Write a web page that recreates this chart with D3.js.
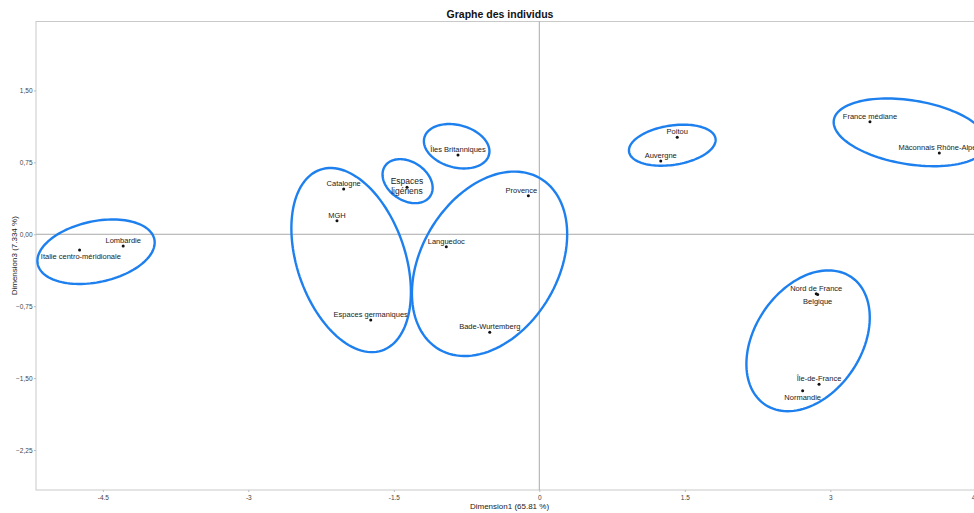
<!DOCTYPE html>
<html>
<head>
<meta charset="utf-8">
<script src="https://cdn.jsdelivr.net/npm/d3@7"></script>
<style>
  html, body { margin: 0; padding: 0; background: #fff; }
  svg { display: block; font-family: "Liberation Sans", Arial, sans-serif; }
</style>
</head>
<body>
<svg id="chart" width="974" height="513"></svg>
<script>
// ---- data ----
const names = ["Lombardie", "Italie centro-méridionale", "Catalogne", "MGH", "Espaces germaniques",
  "Espaces ligériens", "Îles Britanniques", "Provence", "Languedoc", "Bade-Wurtemberg",
  "Poitou", "Auvergne", "France médiane", "Mâconnais Rhône-Alpes",
  "Nord de France", "Belgique", "Île-de-France", "Normandie"];
const dim1 = [-4.29, -4.74, -2.017, -2.086, -1.738, -1.364, -0.838, -0.113, -0.959, -0.511,
  1.422, 1.252, 3.409, 4.124, 2.855, 2.87, 2.884, 2.715];
const dim3 = [-0.122, -0.164, 0.472, 0.142, -0.894, 0.49, 0.827, 0.403, -0.129, -1.022,
  1.011, 0.764, 1.174, 0.848, -0.619, -0.627, -1.564, -1.631];
const labelPlace = ["top", "bottom", "top", "top", "top", "center", "top", "topleft", "top", "top",
  "top", "top", "top", "top", "top", "bottom", "top", "bottom"];

// confidence ellipses (data units): centre, semi-axes, angle (degrees)
const ellCx = [-4.570, -1.940, -1.358, -0.852, -0.513, 1.371, 3.827, 2.771];
const ellCy = [-0.182, -0.269, 0.554, 0.918, -0.308, 0.929, 1.063, -1.111];
const ellA  = [0.615, 0.995, 0.281, 0.345, 1.033, 0.451, 0.801, 0.800];
const ellB  = [0.317, 0.558, 0.201, 0.221, 0.706, 0.205, 0.333, 0.551];
const ellAngle = [12.3, -71.5, -34.3, -15.3, 60.0, 8.8, -9.3, 56.8];

const xTicks = [-4.5, -3, -1.5, 0, 1.5, 3, 4.5];
const yTicks = [1.5, 0.75, 0, -0.75, -1.5, -2.25];

const title = "Graphe des individus";
const xTitle = "Dimension1 (65.81 %)";
const yTitle = "Dimension3 (7.334 %)";

// ---- layout ----
const svg = d3.select("#chart");
const L = 36, T = 21.5, B = 490, R = 982;
const x = d3.scaleLinear().domain([-5.189, 4.564]).range([L, R]);
const y = d3.scaleLinear().domain([-2.667, 2.219]).range([B, T]);

// frame
svg.append("rect").attr("x", L).attr("y", T).attr("width", R - L).attr("height", B - T)
  .attr("fill", "none").attr("stroke", "#c9c9c9").attr("stroke-width", 1);

// zero lines
svg.append("line").attr("x1", L).attr("x2", R).attr("y1", y(0)).attr("y2", y(0))
  .attr("stroke", "#a9a9a9").attr("stroke-width", 1);
svg.append("line").attr("x1", x(0)).attr("x2", x(0)).attr("y1", T).attr("y2", B)
  .attr("stroke", "#a9a9a9").attr("stroke-width", 1);

// axes
const fmtY = d => d3.format(".2f")(d).replace(".", ",");
const fmtX = d => String(d);
const xAxis = svg.append("g").attr("transform", `translate(0,${B})`)
  .call(d3.axisBottom(x).tickValues(xTicks).tickFormat(fmtX).tickSize(2).tickPadding(3));
const yAxis = svg.append("g").attr("transform", `translate(${L},0)`)
  .call(d3.axisLeft(y).tickValues(yTicks).tickFormat(fmtY).tickSize(2).tickPadding(1.5));
[xAxis, yAxis].forEach(g => {
  g.select(".domain").remove();
  g.selectAll(".tick line").attr("stroke", "#bbb");
  g.selectAll(".tick text").attr("font-size", 6.5).attr("fill", "#444")
    .attr("font-family", "'Liberation Sans', Arial, sans-serif");
});

// ellipses
const ellLine = d3.line().x(d => x(d[0])).y(d => y(d[1])).curve(d3.curveLinearClosed);
const ellData = ellCx.map((cx, i) => {
  const th = ellAngle[i] * Math.PI / 180, pts = [];
  for (let k = 0; k < 120; k++) {
    const p = 2 * Math.PI * k / 120;
    const u = ellA[i] * Math.cos(p), v = ellB[i] * Math.sin(p);
    pts.push([cx + u * Math.cos(th) - v * Math.sin(th), ellCy[i] + u * Math.sin(th) + v * Math.cos(th)]);
  }
  return pts;
});
svg.append("g").selectAll("path").data(ellData).join("path")
  .attr("d", ellLine).attr("fill", "none").attr("stroke", "#1e80ee").attr("stroke-width", 2.4);

// points
const pts = names.map((n, i) => ({ n, x: dim1[i], y: dim3[i], pos: labelPlace[i] }));
svg.append("g").selectAll("circle").data(pts).join("circle")
  .attr("cx", d => x(d.x)).attr("cy", d => y(d.y)).attr("r", 1.5).attr("fill", "#111");

// labels
const lab = svg.append("g").attr("font-size", 7.5).attr("fill", "#222").attr("text-anchor", "middle");
pts.forEach(d => {
  const px = x(d.x), py = y(d.y);
  if (d.pos === "center") {
    const words = d.n.split(" ");
    const t = lab.append("text").attr("x", px).attr("y", py - 3.5).attr("font-size", 8.5);
    words.forEach((w, k) => t.append("tspan").attr("x", px).attr("dy", k === 0 ? 0 : 10).text(w));
  } else if (d.pos === "bottom") {
    lab.append("text").attr("x", px + (d.n.length > 12 ? 1.3 : 0)).attr("y", py + 9.5).text(d.n);
  } else if (d.pos === "topleft") {
    lab.append("text").attr("x", px - 7).attr("y", py - 2.2).text(d.n);
  } else {
    lab.append("text").attr("x", px).attr("y", py - 3).text(d.n);
  }
});

// titles
svg.append("text").attr("x", 500).attr("y", 17.5).attr("text-anchor", "middle")
  .attr("font-size", 10.5).attr("font-weight", "bold").attr("fill", "#111").text(title);
svg.append("text").attr("x", 509.5).attr("y", 509).attr("text-anchor", "middle")
  .attr("font-size", 8).attr("fill", "#222").text(xTitle);
svg.append("text").attr("transform", `translate(16.5,${(T + B) / 2}) rotate(-90)`)
  .attr("text-anchor", "middle").attr("font-size", 8).attr("fill", "#222").text(yTitle);
</script>
</body>
</html>
